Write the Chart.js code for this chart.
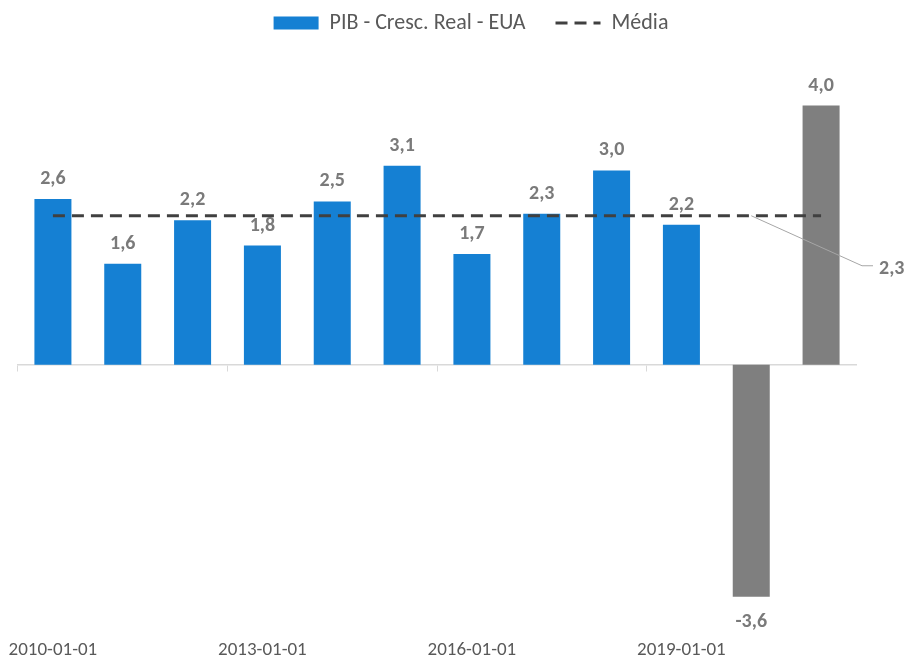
<!DOCTYPE html>
<html lang="pt-BR">
<head>
  <meta charset="UTF-8"/>
  <title>PIB - Cresc. Real - EUA</title>
  <script src="https://cdn.jsdelivr.net/npm/chart.js@4.4.1/dist/chart.umd.min.js"></script>
  <style>
    html, body { margin: 0; padding: 0; background: #fff; }
    #wrap { width: 909px; height: 657px; position: relative; }
  </style>
</head>
<body>
  <div id="wrap"><canvas id="gdpChart"></canvas></div>

  <script>
    const years = ['2010-01-01', '2011-01-01', '2012-01-01', '2013-01-01', '2014-01-01', '2015-01-01',
                   '2016-01-01', '2017-01-01', '2018-01-01', '2019-01-01', '2020-01-01', '2021-01-01'];
    const growth = [2.56, 1.56, 2.23, 1.84, 2.52, 3.07, 1.71, 2.33, 3.0, 2.16, -3.58, 4.0];
    const mean = [2.3, 2.3, 2.3, 2.3, 2.3, 2.3, 2.3, 2.3, 2.3, 2.3, 2.3, 2.3];
    const firstGray = 10; // 2020 and 2021 in gray

    const FONT = 'Carlito, "Liberation Sans Narrow", "Open Sans", sans-serif';
    const DASH = [12, 7];
    const fmt = v => v.toFixed(1).replace('.', ',');

    const valueLabels = {
      id: 'valueLabels',
      afterLayout(chart) {
        // legenda um pouco à direita, como no original
        chart.legend.left += 34;
        chart.legend.right += 34;
      },
      afterDatasetDraw(chart, args) {
        // rótulos das barras, antes da linha da média
        if (args.index !== 0) return;
        const { ctx } = chart;
        ctx.save();
        ctx.font = 'bold 20px ' + FONT;
        ctx.fillStyle = '#7a7a7a';
        ctx.textAlign = 'center';
        ctx.textBaseline = 'middle';
        args.meta.data.forEach((bar, i) => {
          const v = growth[i];
          ctx.fillText(fmt(v), bar.x, v >= 0 ? bar.y - 20 : bar.y + 25);
        });
        ctx.restore();
      },
      afterDatasetsDraw(chart) {
        // rótulo da média com linha de chamada
        const { ctx, chartArea } = chart;
        const pts = chart.getDatasetMeta(1).data;
        const p = pts[firstGray];
        const ex = chartArea.right + 6, ey = p.y + 50;
        ctx.save();
        ctx.strokeStyle = '#a6a6a6';
        ctx.lineWidth = 1;
        ctx.beginPath();
        ctx.moveTo(p.x, p.y);
        ctx.lineTo(ex, ey);
        ctx.lineTo(ex + 11, ey);
        ctx.stroke();
        ctx.font = 'bold 20px ' + FONT;
        ctx.fillStyle = '#7a7a7a';
        ctx.textAlign = 'left';
        ctx.textBaseline = 'middle';
        ctx.fillText(fmt(mean[mean.length - 1]), ex + 17, ey + 3);
        ctx.restore();
      }
    };

    new Chart(document.getElementById('gdpChart'), {
      data: {
        labels: years,
        datasets: [
          {
            type: 'bar',
            label: 'PIB - Cresc. Real - EUA',
            data: growth,
            backgroundColor: ctx => ctx.dataIndex >= firstGray ? '#7f7f7f' : '#1580d3',
            pointStyle: 'rect',
            categoryPercentage: 1,
            barPercentage: 0.53,
            order: 2
          },
          {
            type: 'line',
            label: 'Média',
            data: mean,
            borderColor: '#404040',
            backgroundColor: '#404040',
            borderWidth: 3,
            borderDash: DASH,
            pointRadius: 0,
            pointStyle: 'line',
            order: 1
          }
        ]
      },
      options: {
        responsive: true,
        maintainAspectRatio: false,
        animation: false,
        layout: { padding: { left: 18, right: 53, top: -18, bottom: -5 } },
        plugins: {
          legend: {
            position: 'top',
            labels: {
              usePointStyle: true,
              pointStyleWidth: 45,
              boxHeight: 13,
              padding: 30,
              color: '#595959',
              font: { family: FONT, size: 22 },
              sort: (a, b) => a.datasetIndex - b.datasetIndex,
              generateLabels(chart) {
                const items = Chart.defaults.plugins.legend.labels.generateLabels(chart);
                items.forEach(it => {
                  if (it.datasetIndex === 1) { it.lineDash = DASH; it.lineWidth = 3; }
                });
                return items;
              }
            }
          },
          tooltip: { enabled: false }
        },
        scales: {
          x: {
            position: 'bottom',
            offset: true,
            grid: { display: false, offset: true },
            border: { display: false },
            ticks: {
              autoSkip: false,
              maxRotation: 0,
              padding: 0,
              color: '#595959',
              font: { family: FONT, size: 19 },
              callback: (v, i) => i % 3 === 0 ? years[i] : ''
            }
          },
          x2: {
            type: 'category',
            position: { y: 0 },
            offset: true,
            grid: {
              offset: true,
              drawOnChartArea: false,
              drawTicks: true,
              tickLength: 6,
              color: ctx => ctx.index % 3 === 0 ? '#d9d9d9' : 'rgba(0,0,0,0)'
            },
            border: { display: true, color: '#d9d9d9', width: 1.5 },
            ticks: { display: false }
          },
          y: {
            display: false,
            min: -4.11,
            max: 4.95
          }
        }
      },
      plugins: [valueLabels]
    });
  </script>
</body>
</html>
